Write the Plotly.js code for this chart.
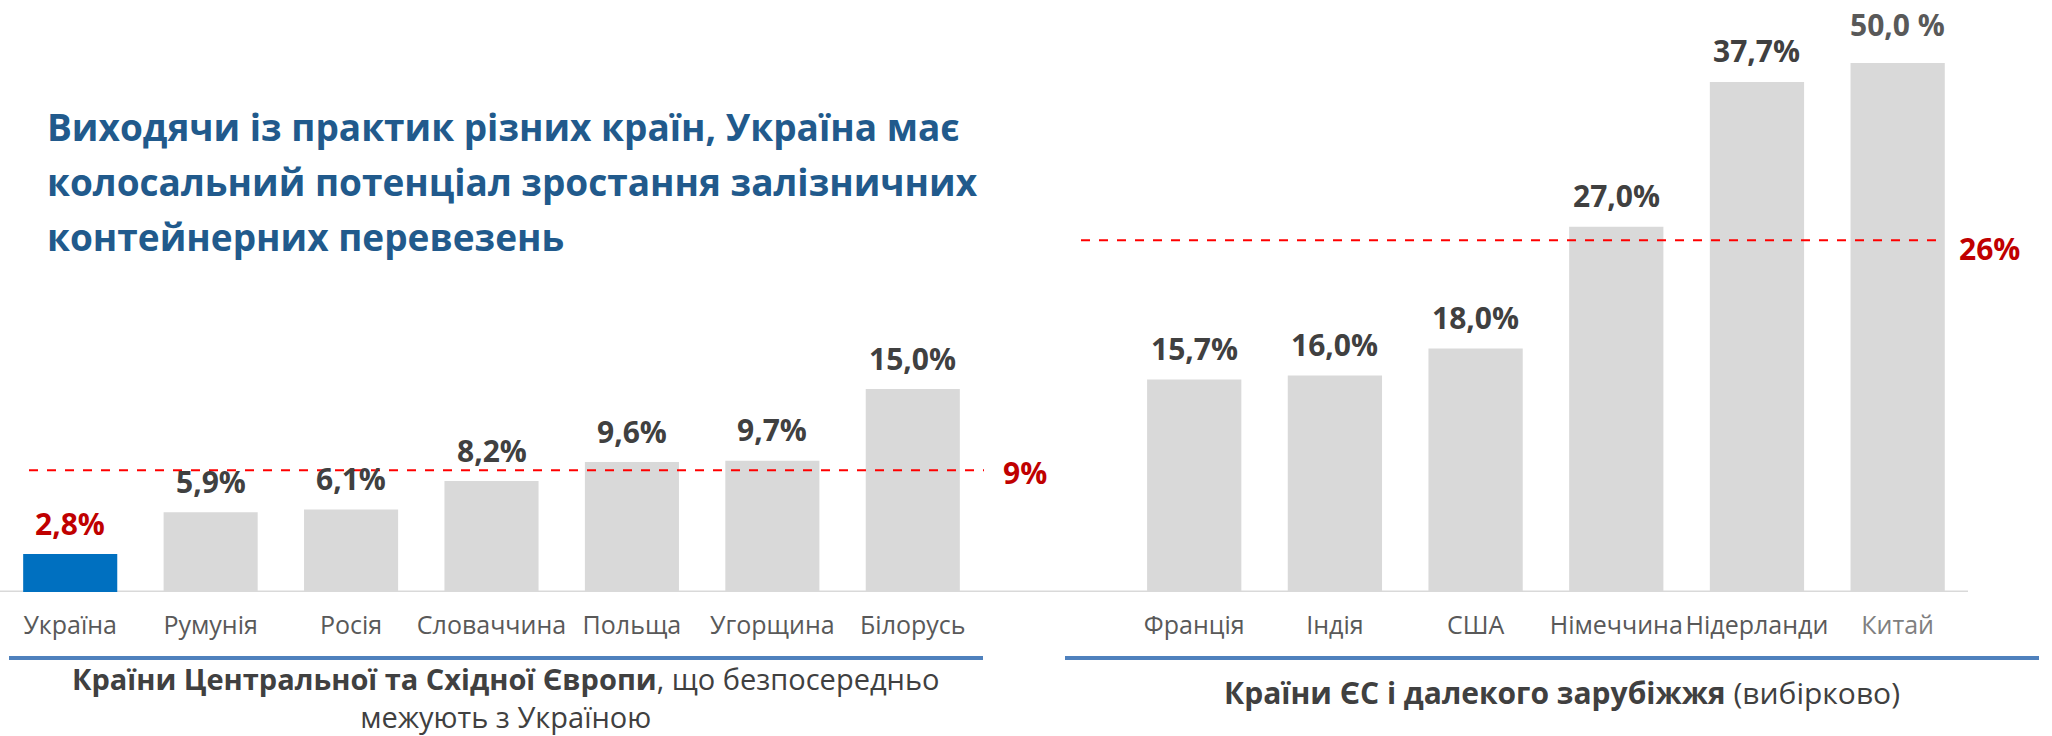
<!DOCTYPE html>
<html><head><meta charset="utf-8">
<script src="https://cdn.plot.ly/plotly-3.0.1.min.js"></script>
<style>html,body{margin:0;padding:0;background:#fff}</style>
</head><body><div id="chart" style="width:2052px;height:736px"></div>
<script>
// ---- data ----
const leftCategories = ['Україна','Румунія','Росія','Словаччина','Польща','Угорщина','Білорусь'];
const leftValues = [2.8, 5.9, 6.1, 8.2, 9.6, 9.7, 15.0];
const leftLabels = ['2,8%','5,9%','6,1%','8,2%','9,6%','9,7%','15,0%'];
const rightCategories = ['Франція','Індія','США','Німеччина','Нідерланди','Китай'];
const rightValues = [15.7, 16.0, 18.0, 27.0, 37.7, 50.0];
const rightLabels = ['15,7%','16,0%','18,0%','27,0%','37,7%','50,0 %'];
const leftBenchmark = 9, leftBenchmarkLabel = '9%';
const rightBenchmark = 26, rightBenchmarkLabel = '26%';
const titleLines = ['Виходячи із практик різних країн, Україна має',
                    'колосальний потенціал зростання залізничних',
                    'контейнерних перевезень'];
const leftSubtitle = ['<b>Країни Центральної та Східної Європи</b>, що безпосередньо', 'межують з Україною'];
const rightSubtitle = '<b>Країни ЄС і далекого зарубіжжя</b> (вибірково)';

// ---- styling ----
const W = 2052, H = 736;
const FONT = '"Open Sans", "Noto Sans", sans-serif';
const YMAX = 39.1;
const px = v => v / W, py = v => 1 - v / H;

const traces = [
  { type:'bar', x:leftCategories, y:leftValues, xaxis:'x', yaxis:'y',
    marker:{color:leftCategories.map((c,i)=> i===0 ? '#0070C0' : '#D9D9D9')},
    hoverinfo:'skip' },
  { type:'bar', x:rightCategories, y:rightValues, xaxis:'x2', yaxis:'y2',
    marker:{color:'#D9D9D9'}, hoverinfo:'skip' }
];

const annotations = [];
leftCategories.forEach((c,i)=>{
  annotations.push({x:c, y:Math.min(leftValues[i],YMAX), xref:'x', yref:'y', xanchor:'center', yanchor:'middle',
    yshift:31, showarrow:false, text:leftLabels[i],
    font:{family:FONT, size:30, color: i===0 ? '#C00000' : '#404040', weight:700}});
});
rightCategories.forEach((c,i)=>{
  const capped = rightValues[i] > YMAX;
  annotations.push({x:c, y:Math.min(rightValues[i],YMAX), xref:'x2', yref:'y2', xanchor:'center', yanchor:'middle',
    yshift: capped ? 39 : 31, showarrow:false, text:rightLabels[i],
    font:{family:FONT, size:30, color: capped ? '#595959' : '#404040', weight:700}});
});
annotations.push({x:px(1025), xref:'paper', xanchor:'center', y:leftBenchmark, yref:'y', yshift:-2, showarrow:false,
  text:'<b>'+leftBenchmarkLabel+'</b>', font:{family:FONT, size:30, color:'#C00000'}});
annotations.push({x:px(1989), xref:'paper', xanchor:'center', y:rightBenchmark, yref:'y2', yshift:-8, showarrow:false,
  text:'<b>'+rightBenchmarkLabel+'</b>', font:{family:FONT, size:30, color:'#C00000'}});
const titleY = [127, 182, 236];
titleLines.forEach((t,i)=>{
  annotations.push({x:px(45), xref:'paper', y:py(titleY[i]), yref:'paper', xanchor:'left', yanchor:'middle',
    showarrow:false, text:'<b>'+t+'</b>', font:{family:FONT, size:37, color:'#215A8C'}});
});
annotations.push({x:px(506), xref:'paper', y:py(697), yref:'paper', xanchor:'center', yanchor:'middle',
  align:'center', showarrow:false, text:leftSubtitle.join('<br>'), font:{family:FONT, size:29, color:'#404040'}});
annotations.push({x:px(1562), xref:'paper', y:py(692), yref:'paper', xanchor:'center', yanchor:'middle',
  showarrow:false, text:rightSubtitle, font:{family:FONT, size:30, color:'#404040'}});

const shapes = [
  {type:'line', xref:'paper', x0:0, x1:px(1968), yref:'y', y0:0, y1:0, layer:'below',
   line:{color:'#D9D9D9', width:3}},
  {type:'line', xref:'paper', x0:px(29), x1:px(984), yref:'y', y0:leftBenchmark, y1:leftBenchmark,
   line:{color:'#FF0000', width:2, dash:'dash'}},
  {type:'line', xref:'paper', x0:px(1081), x1:px(1942), yref:'y2', y0:rightBenchmark, y1:rightBenchmark,
   line:{color:'#FF0000', width:2, dash:'dash'}},
  {type:'line', xref:'paper', x0:px(9), x1:px(983), yref:'paper', y0:py(658), y1:py(658),
   line:{color:'#4F81BD', width:4}},
  {type:'line', xref:'paper', x0:px(1065), x1:px(2039), yref:'paper', y0:py(658), y1:py(658),
   line:{color:'#4F81BD', width:4}}
];

const tickFont = {family:FONT, size:25, color:'#595959'};
const layout = {
  width:W, height:H, margin:{l:0,r:0,t:0,b:0}, showlegend:false,
  paper_bgcolor:'#fff', plot_bgcolor:'rgba(0,0,0,0)', bargap:0.33,
  xaxis:{domain:[0, px(983)], type:'category', range:[-0.5, 6.5], showgrid:false, zeroline:false,
    showline:false, ticks:'', tickfont:tickFont, ticklabelstandoff:16, fixedrange:true},
  xaxis2:{domain:[px(1050), px(1968)], type:'category', range:[-1.025, 5.5], anchor:'y2', showgrid:false,
    zeroline:false, showline:false, ticks:'', tickfont:tickFont, ticklabelstandoff:16,
    tickmode:'array', tickvals:rightCategories,
    ticktext:rightCategories.map((c,i)=> i===rightCategories.length-1 ? '<span style="color:#808080">'+c+'</span>' : c),
    fixedrange:true},
  yaxis:{domain:[py(592), py(63)], range:[0, YMAX], visible:false, fixedrange:true},
  yaxis2:{domain:[py(592), py(63)], range:[0, YMAX], visible:false, anchor:'x2', fixedrange:true},
  annotations, shapes
};
Plotly.newPlot('chart', traces, layout, {displayModeBar:false, staticPlot:true});
</script></body></html>
